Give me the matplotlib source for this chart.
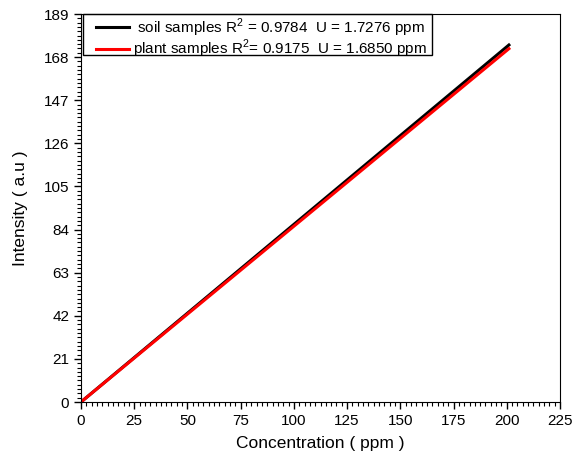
import numpy as np
import matplotlib
matplotlib.use("Agg")
import matplotlib.pyplot as plt
from matplotlib.ticker import MultipleLocator
from matplotlib.legend_handler import HandlerLine2D
from matplotlib.patches import Rectangle

plt.rcParams['font.family'] = ['Liberation Sans', 'DejaVu Sans']
plt.rcParams['mathtext.fontset'] = 'custom'
plt.rcParams['mathtext.rm'] = 'Liberation Sans'

# calibration lines
conc = [0, 201]
soil_intensity = [0, 173.9]
plant_intensity = [0, 172.1]

soil_label = " soil samples R$^2$ = 0.9784  U = 1.7276 ppm"
plant_label = "plant samples R$^2$= 0.9175  U = 1.6850 ppm"

fig = plt.figure(figsize=(5.74, 4.62), dpi=100)
ax = fig.add_axes([81 / 574, 60 / 462, 479 / 574, 388 / 462])

soil_line, = ax.plot(conc, soil_intensity, color="black", lw=2.2, label=soil_label)
plant_line, = ax.plot(conc, plant_intensity, color="red", lw=2.2, label=plant_label)

ax.set_xlim(0, 225)
ax.set_ylim(0, 189)
ax.xaxis.set_major_locator(MultipleLocator(25))
ax.xaxis.set_minor_locator(MultipleLocator(2.5))
ax.yaxis.set_major_locator(MultipleLocator(21))
ax.yaxis.set_minor_locator(MultipleLocator(2.1))
ax.tick_params(which="both", direction="out", top=False, right=False, labelsize=11)
ax.tick_params(which="major", length=5, width=1)
ax.tick_params(which="minor", length=3, width=0.8)

ax.set_xlabel("Concentration ( ppm )", fontsize=12.5, labelpad=6)
ax.set_ylabel("Intensity ( a.u )", fontsize=12.5, labelpad=11)

# shift the handle lines a bit to the right inside the box
hmap = {soil_line: HandlerLine2D(xpad=0.8), plant_line: HandlerLine2D(xpad=0.8)}
leg = ax.legend(loc="upper left", fontsize=11, frameon=False,
                borderaxespad=0.0, handlelength=3.0,
                handletextpad=0.25, borderpad=0.15, labelspacing=-0.05,
                handler_map=hmap)

# tighter legend box drawn by hand (matplotlib adds extra room under mathtext)
box = Rectangle((0.004, 0.894), 0.729, 0.106, transform=ax.transAxes,
                fill=False, edgecolor="black", lw=1.0, clip_on=False, zorder=5)
ax.add_patch(box)

fig.savefig("out.png", dpi=100)
